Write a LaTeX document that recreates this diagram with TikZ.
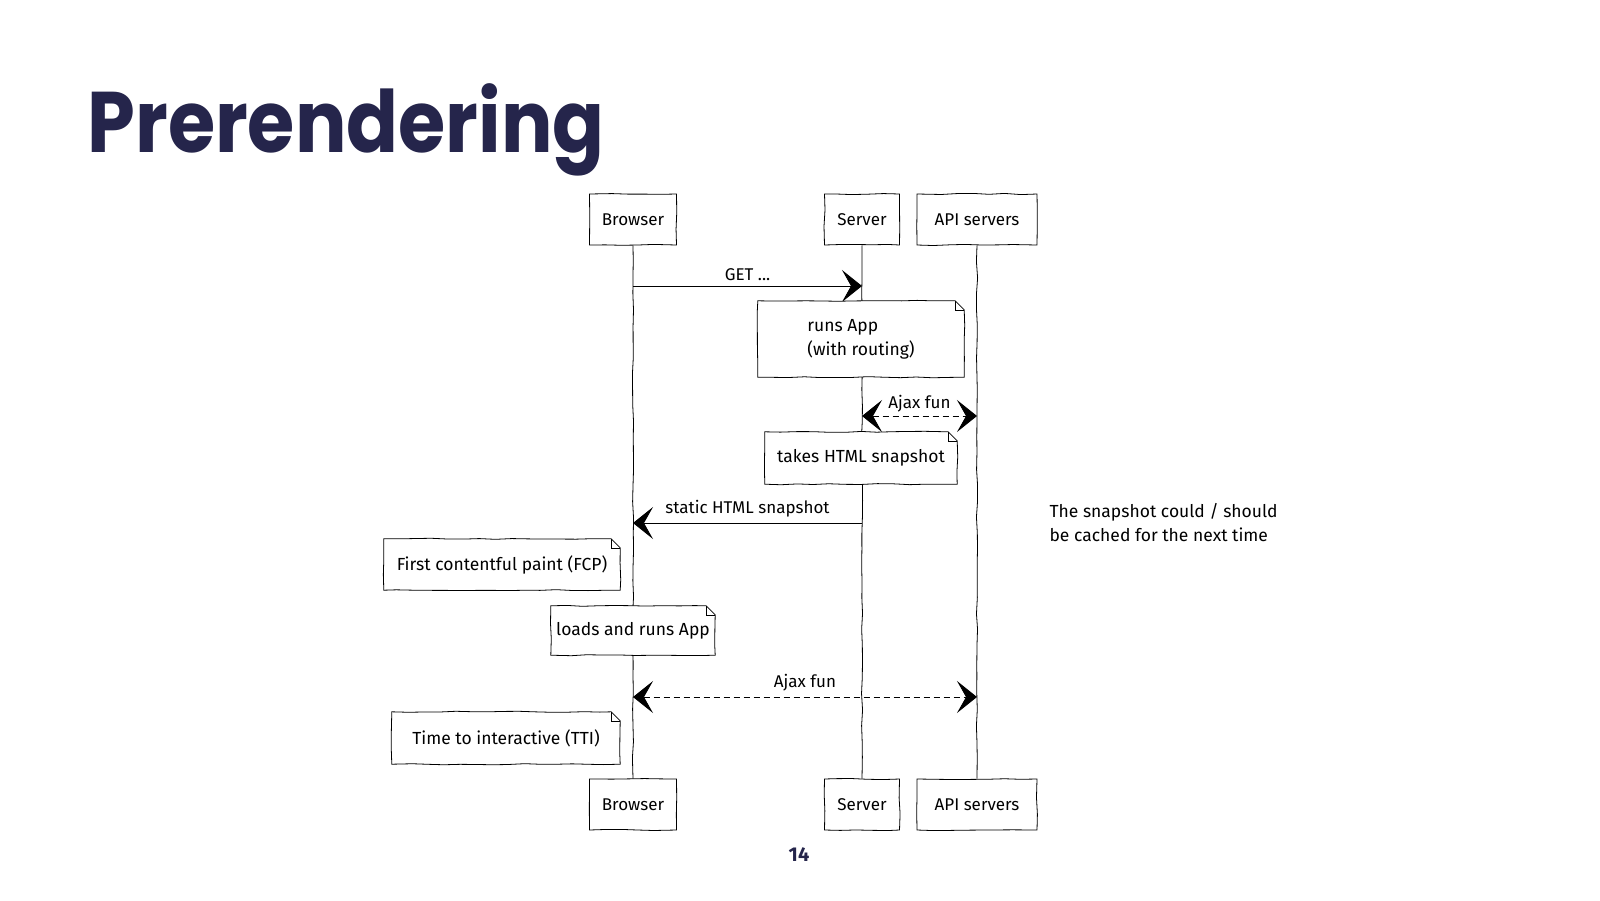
\documentclass[tikz,border=0pt]{standalone}
\usepackage{fontspec}
\setmainfont{Fira Sans}
\newfontfamily\titlefont{Poppins}
\usetikzlibrary{arrows.meta,decorations.pathmorphing,positioning}
\definecolor{slidenavy}{HTML}{25254B}

\tikzset{
  sketch/.style={decorate, decoration={random steps, segment length=16pt, amplitude=0.6pt}},
  actor/.style={draw, sketch, fill=white, line width=0.8pt, minimum height=51pt,
    inner sep=0pt, font=\fontsize{17}{19}\selectfont},
  note/.style={fill=white, inner sep=0pt, align=left, font=\fontsize{17.5}{24}\selectfont},
  msg/.style={line width=0.9pt, -{Stealth[length=20pt,width=32pt,inset=9pt]}},
  ajax/.style={line width=0.9pt, dash pattern=on 6pt off 4pt,
    {Stealth[length=20pt,width=32pt,inset=9pt]}-{Stealth[length=20pt,width=32pt,inset=9pt]}},
  msglabel/.style={fill=white, inner sep=2pt, font=\fontsize{17}{19}\selectfont},
}

\begin{document}
\begin{tikzpicture}[x=1pt, y=-1pt]
  \pgfmathsetseed{7}
  \useasboundingbox (0,0) rectangle (1600,900);

  % Slide title and page number
  \node[anchor=base west, font=\titlefont\bfseries\fontsize{86}{90}\selectfont, text=slidenavy]
    (title) at (84,152) {\scalebox{0.89}[1]{Prerendering}};
  \node[font=\bfseries\fontsize{20}{22}\selectfont, text=slidenavy] (page) at (799,855) {14};

  % Participants, top and bottom
  \node[actor, minimum width=87pt]  (br-top)  at (633,219.5) {Browser};
  \node[actor, minimum width=75pt]  (sv-top)  at (862,219.5) {Server};
  \node[actor, minimum width=120pt] (api-top) at (977,219.5) {API servers};
  \node[actor, minimum width=87pt]  (br-bot)  at (633,804.5) {Browser};
  \node[actor, minimum width=75pt]  (sv-bot)  at (862,804.5) {Server};
  \node[actor, minimum width=120pt] (api-bot) at (977,804.5) {API servers};

  % Lifelines
  \draw[line width=0.8pt, sketch] (br-top) -- (br-bot);
  \draw[line width=0.8pt, sketch] (sv-top) -- (sv-bot);
  \draw[line width=0.8pt, sketch] (api-top) -- (api-bot);

  % Message end points on the lifelines
  \coordinate (get-from) at (633,286);
  \coordinate (get-to)   at (862,286);
  \coordinate (fun1-sv)  at (862,416);
  \coordinate (fun1-api) at (977,416);
  \coordinate (html-sv)  at (862,523);
  \coordinate (html-br)  at (633,523);
  \coordinate (fun2-br)  at (633,697);
  \coordinate (fun2-api) at (977,697);

  % Messages
  \draw[msg] (get-from) -- node[msglabel, above=3pt] (get-lbl) {GET ...} (get-to);
  \draw[ajax] (fun1-sv) -- node[msglabel, above=1pt] (fun1-lbl) {Ajax fun} (fun1-api);
  \draw[msg] (html-sv) -- node[msglabel, above=3pt] (html-lbl) {static HTML snapshot} (html-br);
  \draw[ajax] (fun2-br) -- node[msglabel, above=3pt] (fun2-lbl) {Ajax fun} (fun2-api);

  % Notes
  \node[note, minimum width=206pt, minimum height=76pt] (run-app) at (861,339)
    {runs App\\(with routing)};
  \node[note, minimum width=192pt, minimum height=52pt] (snapshot) at (861,458)
    {takes HTML snapshot};
  \node[note, minimum width=236pt, minimum height=51pt] (fcp) at (502,564.5)
    {First contentful paint (FCP)};
  \node[note, minimum width=164pt, minimum height=49pt] (load-app) at (633,630.5)
    {loads and runs App};
  \node[note, minimum width=228pt, minimum height=52pt] (tti) at (506,738)
    {Time to interactive (TTI)};
  \foreach \n in {run-app, snapshot, fcp, load-app, tti}{
    \draw[line width=0.8pt, sketch]
      (\n.south west) -- (\n.north west) -- ([xshift=-9pt]\n.north east)
      -- ([yshift=-9pt]\n.north east) -- (\n.south east) -- cycle;
    \draw[line width=0.6pt] ([xshift=-9pt]\n.north east)
      -- ([xshift=-9pt, yshift=-9pt]\n.north east) -- ([yshift=-9pt]\n.north east);
  }

  % Side remark
  \node[anchor=west, align=left, font=\fontsize{17.5}{24}\selectfont] (cache-note) at (1046,523)
    {The snapshot could / should\\be cached for the next time};
\end{tikzpicture}
\end{document}
